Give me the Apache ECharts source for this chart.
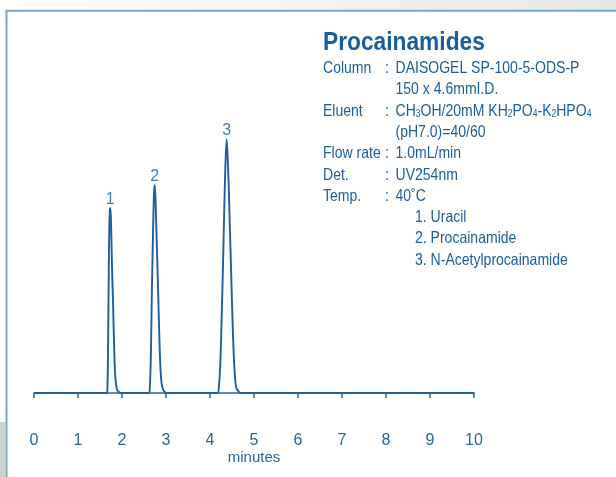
<!DOCTYPE html>
<html>
<head>
<meta charset="utf-8">
<style>
  html, body { margin: 0; padding: 0; background: #ffffff; }
  #chart { width: 616px; height: 477px; }
</style>
<script src="https://cdn.jsdelivr.net/npm/echarts@6/dist/echarts.min.js"></script>
</head>
<body>
<div id="chart"></div>
<script>
// Retention time axis (minutes)
const timeTicks = [0, 1, 2, 3, 4, 5, 6, 7, 8, 9, 10];

// Detector trace, [time (min), signal], read peak by peak
const baselineStart = [[0, 0]];
const peak1 = [[1.655, 0], [1.668, 4], [1.68, 30], [1.693, 93], [1.706, 150], [1.72, 180], [1.734, 185],
  [1.748, 175], [1.762, 148], [1.778, 118], [1.795, 93], [1.812, 62], [1.83, 33], [1.848, 16],
  [1.866, 8], [1.89, 3], [1.93, 1], [1.97, 0]];
const peak2 = [[2.61, 0], [2.63, 4], [2.655, 35], [2.68, 104], [2.705, 160], [2.725, 198], [2.743, 208],
  [2.76, 196], [2.78, 165], [2.8, 135], [2.82, 104], [2.84, 70], [2.86, 40], [2.88, 20], [2.9, 10],
  [2.93, 4], [2.97, 1], [3.01, 0]];
const peak3 = [[4.17, 0], [4.2, 5], [4.235, 30], [4.265, 75], [4.295, 127], [4.325, 185], [4.35, 228],
  [4.379, 254], [4.405, 232], [4.43, 200], [4.455, 160], [4.477, 127], [4.5, 90], [4.525, 55],
  [4.55, 28], [4.575, 12], [4.6, 5], [4.64, 2], [4.69, 0]];
const baselineEnd = [[10, 0]];

// Peak apexes and their numbers
const peakApex = [[1.734, 185], [2.743, 208], [4.379, 254]];
const peakNumbers = ['1', '2', '3'];

// Method conditions
const title = 'Procainamides';
const conditionLabels = ['Column', '', 'Eluent', '', 'Flow rate', 'Det.', 'Temp.'];
const conditionColons = [':', '', ':', '', ':', ':', ':'];
const conditionValues = [
  'DAISOGEL SP-100-5-ODS-P',
  '150 x 4.6mmI.D.',
  'CH{s|3}OH/20mM KH{s|2}PO{s|4}-K{s|2}HPO{s|4}',
  '(pH7.0)=40/60',
  '1.0mL/min',
  'UV254nm',
  '40˚C'
];
const compounds = ['1. Uracil', '2. Procainamide', '3. N-Acetylprocainamide'];

const trace = [].concat(baselineStart, peak1, peak2, peak3, baselineEnd);

const BLUE = '#1b5d9b';
const AXIS_BLUE = '#2466a4';
const FONT = "'Liberation Sans', Arial, Helvetica, sans-serif";
const NARROW = 0.85;   // condensed look for the condition block

const rowY0 = 68.5;
const rowStep = 21.3;
const texts = [];

function narrowText(x, y, text, font, scale, rich) {
  const style = { text: text, font: font, fill: BLUE, verticalAlign: 'middle' };
  if (rich) style.rich = rich;
  return { type: 'text', x: x, y: y, scaleX: scale, style: style };
}

const subRich = { s: { fontSize: 10, fontFamily: FONT, fill: BLUE, verticalAlign: 'bottom', padding: [6, 0, 0, 0] } };

texts.push(narrowText(323, 42.5, title, 'bold 26px ' + FONT, 0.875));
conditionLabels.forEach(function (lab, i) {
  const y = rowY0 + i * rowStep;
  if (lab) texts.push(narrowText(323, y, lab, '16.5px ' + FONT, NARROW));
  if (conditionColons[i]) texts.push(narrowText(385, y, conditionColons[i], '16.5px ' + FONT, NARROW));
  texts.push(narrowText(395.5, y, conditionValues[i], '16.5px ' + FONT, NARROW, subRich));
});
compounds.forEach(function (c, i) {
  texts.push(narrowText(415, rowY0 + (conditionLabels.length + i) * rowStep, c, '16.5px ' + FONT, NARROW));
});

const chart = echarts.init(document.getElementById('chart'), null, { renderer: 'canvas' });
chart.setOption({
  animation: false,
  backgroundColor: '#ffffff',
  grid: { left: 34, right: 142, top: 124, bottom: 53 },
  xAxis: {
    type: 'value', min: 0, max: 10, interval: 1,
    name: 'minutes', nameLocation: 'middle', nameGap: 26, nameMoveOverlap: false,
    nameTextStyle: { color: AXIS_BLUE, fontSize: 15, fontFamily: FONT },
    axisLine: { lineStyle: { color: AXIS_BLUE, width: 1.5 } },
    axisTick: { length: 5, lineStyle: { color: AXIS_BLUE, width: 1.5 } },
    axisLabel: { color: AXIS_BLUE, fontSize: 16, fontFamily: FONT, margin: 9,
      formatter: function (v) { return timeTicks.indexOf(v) >= 0 ? String(v) : ''; } },
    splitLine: { show: false }
  },
  yAxis: { type: 'value', min: -31, max: 269, show: false, splitLine: { show: false } },
  series: [
    {
      type: 'line', data: trace, showSymbol: false, symbol: 'none', smooth: 0.25,
      lineStyle: { color: '#1f5f9e', width: 1.9 }, z: 3
    },
    {
      type: 'scatter', symbolSize: 1, itemStyle: { color: 'rgba(0,0,0,0)' },
      data: peakApex.map(function (p, i) {
        return { value: p, label: { formatter: peakNumbers[i] } };
      }),
      label: { show: true, position: 'top', distance: 0, color: BLUE, fontSize: 16, fontFamily: FONT },
      z: 4
    }
  ],
  graphic: [
    {
      type: 'rect', shape: { x: 0, y: 0, width: 616, height: 10 },
      style: { fill: new echarts.graphic.LinearGradient(0, 0, 1, 0, [
        { offset: 0, color: '#ffffff' }, { offset: 0.35, color: '#f6f7f6' }, { offset: 1, color: '#e4e8e6' }]) }
    },
    { type: 'rect', shape: { x: 0, y: 422, width: 5.5, height: 55 }, style: { fill: '#cad4ce' } },
    { type: 'line', shape: { x1: 5.5, y1: 10.8, x2: 616, y2: 10.8 }, style: { stroke: '#7ca5cb', lineWidth: 2 } },
    { type: 'line', shape: { x1: 6.5, y1: 10, x2: 6.5, y2: 477 }, style: { stroke: '#7ca5cb', lineWidth: 2 } }
  ].concat(texts)
});
</script>
</body>
</html>
